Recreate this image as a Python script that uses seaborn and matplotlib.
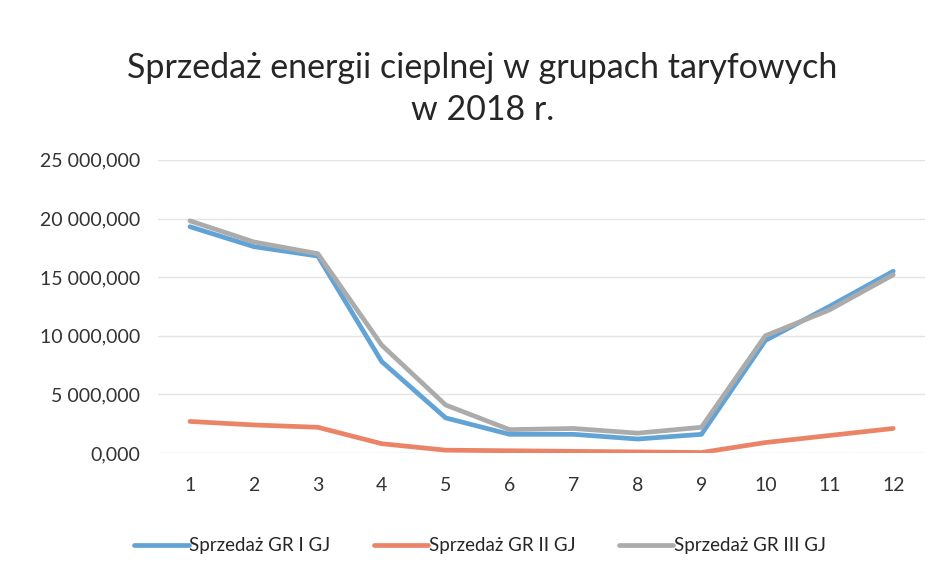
import matplotlib.pyplot as plt
import matplotlib.ticker as mticker
import seaborn as sns
import pandas as pd

months = list(range(1, 13))
gr1 = [19300, 17600, 16800, 7800, 3000, 1600, 1600, 1200, 1600, 9600, 12500, 15500]
gr2 = [2700, 2400, 2200, 800, 250, 200, 150, 100, 50, 900, 1500, 2100]
gr3 = [19800, 18000, 17000, 9200, 4100, 2000, 2100, 1700, 2200, 10000, 12200, 15200]
series = ['Sprzedaż GR I GJ', 'Sprzedaż GR II GJ', 'Sprzedaż GR III GJ']
colors = ['#62A3D6', '#EB8466', '#ABABAB']

rows = []
for name, vals in zip(series, [gr1, gr2, gr3]):
    for m, v in zip(months, vals):
        rows.append({'month': m, 'value': v, 'series': name})
data = pd.DataFrame(rows)

sns.set_style('white')
plt.rcParams['font.family'] = ['Lato', 'DejaVu Sans']

fig, ax = plt.subplots(figsize=(9.46, 5.75), dpi=100)
fig.subplots_adjust(left=0.167, right=0.978, top=0.722, bottom=0.212)

sns.lineplot(data=data, x='month', y='value', hue='series',
             palette=colors, linewidth=3.4, ax=ax, legend=True)

ax.set_xlim(0.5, 12.5)
ax.set_ylim(0, 25000)
ax.set_xticks(months)
ax.set_yticks([0, 5000, 10000, 15000, 20000, 25000])
ax.yaxis.set_major_formatter(mticker.FuncFormatter(
    lambda v, p: f'{v:,.3f}'.replace(',', ' ').replace('.', ',')))
ax.grid(axis='y', color='#E4E4E4', linewidth=1)
ax.set_axisbelow(True)
for s in ax.spines.values():
    s.set_visible(False)
ax.tick_params(axis='both', length=0, labelsize=14, colors='#333333')
ax.tick_params(axis='x', pad=17)
ax.tick_params(axis='y', pad=13)
ax.set_xlabel('')
ax.set_ylabel('')

ax.legend(loc='upper center', bbox_to_anchor=(0.42, -0.23), ncol=3,
          frameon=False, fontsize=13.5, handlelength=2.9, handletextpad=0.05,
          columnspacing=2.3)

fig.suptitle('Sprzedaż energii cieplnej w grupach taryfowych\nw 2018 r.',
             fontsize=24.5, color='#262626', x=0.51, y=0.91, linespacing=1.4)

plt.savefig('out.png', dpi=100, facecolor='white')
